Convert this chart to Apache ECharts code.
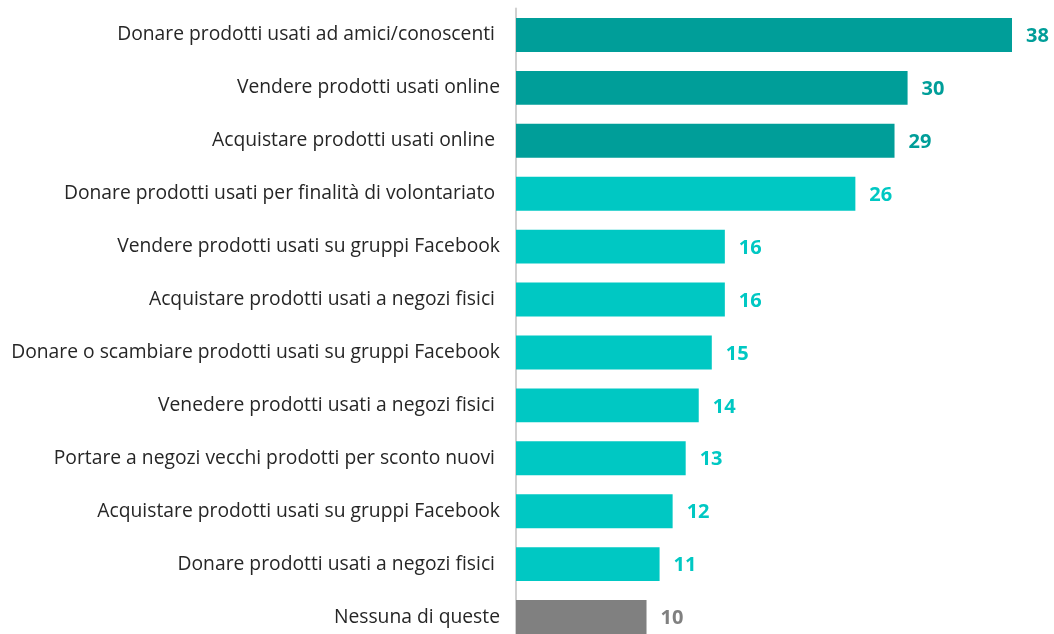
<!DOCTYPE html>
<html>
<head>
<meta charset="utf-8">
<script src="https://cdn.jsdelivr.net/npm/echarts@6/dist/echarts.min.js"></script>
<style>
html,body{margin:0;padding:0;background:#fff;}
#c{width:1054px;height:634px;}
</style>
</head>
<body>
<div id="c"></div>
<script>
const categories = [
  "Donare prodotti usati ad amici/conoscenti ",
  "Vendere prodotti usati online",
  "Acquistare prodotti usati online ",
  "Donare prodotti usati per finalità di volontariato ",
  "Vendere prodotti usati su gruppi Facebook",
  "Acquistare prodotti usati a negozi fisici ",
  "Donare o scambiare prodotti usati su gruppi Facebook",
  "Venedere prodotti usati a negozi fisici ",
  "Portare a negozi vecchi prodotti per sconto nuovi ",
  "Acquistare prodotti usati su gruppi Facebook",
  "Donare prodotti usati a negozi fisici ",
  "Nessuna di queste"
];
const values = [38, 30, 29, 26, 16, 16, 15, 14, 13, 12, 11, 10];
const groups = ["dark","dark","dark","light","light","light","light","light","light","light","light","grey"];
const palette = {dark: "#009E99", light: "#00C8C3", grey: "#808080"};

const chart = echarts.init(document.getElementById('c'));
chart.setOption({
  animation: false,
  grid: {left: 516, right: 42, top: 8.5, height: 635, containLabel: false, outerBoundsMode: 'none'},
  xAxis: {type: 'value', min: 0, max: 38, show: false},
  yAxis: {
    type: 'category', data: categories, inverse: true,
    axisLine: {show: true, lineStyle: {color: '#D0D0D0', width: 2}},
    axisTick: {show: false},
    axisLabel: {fontFamily: 'Open Sans', fontSize: 19.3, color: '#262626', margin: 16}
  },
  series: [{
    type: 'bar',
    barCategoryGap: '36%',
    data: values.map((v, i) => ({value: v, itemStyle: {color: palette[groups[i]]}, label: {color: palette[groups[i]]}})),
    label: {show: true, position: 'right', distance: 14, offset: [0, 1.5], fontFamily: 'Open Sans', fontSize: 20, fontWeight: 'bold'}
  }]
});
</script>
</body>
</html>
